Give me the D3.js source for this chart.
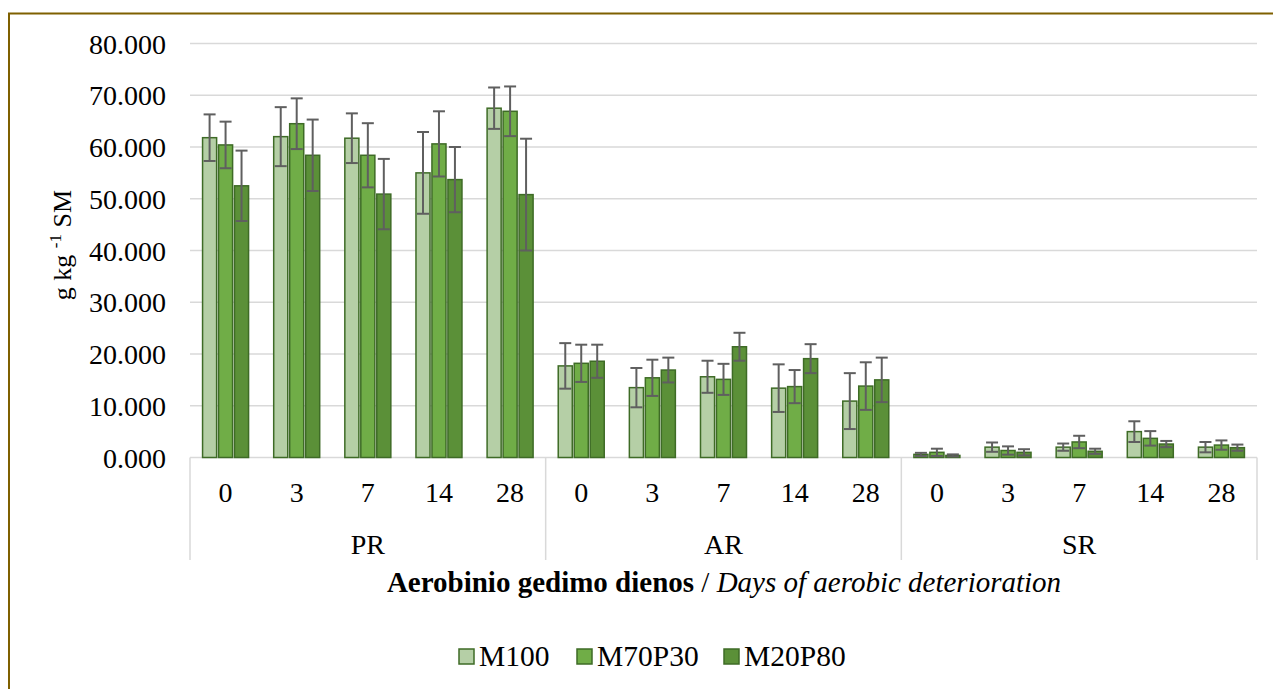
<!DOCTYPE html>
<html>
<head>
<meta charset="utf-8">
<script src="https://cdn.jsdelivr.net/npm/d3@7/dist/d3.min.js"></script>
<style>
  html, body { margin: 0; padding: 0; background: #fff; }
  svg { display: block; }
  text { font-family: "Liberation Serif", "Times New Roman", serif; fill: #000; }
</style>
</head>
<body>
<svg id="chart" width="1273" height="689"></svg>
<script>
// ---- data ----
const groups = ["PR", "AR", "SR"];
const days = ["0", "3", "7", "14", "28"];
const seriesNames = ["M100", "M70P30", "M20P80"];
const yTicks = [0, 10, 20, 30, 40, 50, 60, 70, 80];

const m100 = [61.8, 62.0, 61.7, 55.0, 67.5, 17.7, 13.5, 15.6, 13.4, 10.9, 0.6, 2.0, 2.0, 5.0, 2.0];
const m100Err = [4.5, 5.7, 4.8, 7.9, 4.0, 4.4, 3.8, 3.1, 4.6, 5.4, 0.3, 0.9, 0.7, 2.0, 1.0];
const m70p30 = [60.4, 64.5, 58.4, 60.6, 66.9, 18.2, 15.4, 15.1, 13.7, 13.8, 1.0, 1.35, 3.0, 3.7, 2.4];
const m70p30Err = [4.5, 4.9, 6.2, 6.3, 4.8, 3.6, 3.5, 3.0, 3.2, 4.6, 0.7, 0.8, 1.2, 1.4, 0.9];
const m20p80 = [52.5, 58.4, 50.9, 53.7, 50.8, 18.6, 16.9, 21.4, 19.1, 15.0, 0.4, 1.0, 1.2, 2.6, 1.9];
const m20p80Err = [6.8, 6.9, 6.8, 6.3, 10.8, 3.2, 2.4, 2.7, 2.8, 4.3, 0.2, 0.6, 0.5, 0.6, 0.6];

const colors = ["#b5cfa6", "#70ad47", "#5b9038"];
const values = [m100, m70p30, m20p80];
const errors = [m100Err, m70p30Err, m20p80Err];

(function () {
// categories = group x day
const cats = [];
groups.forEach(g => days.forEach(d => cats.push(g + "|" + d)));

const svg = d3.select("#chart");
const pLeft = 190, pRight = 1257, pTop = 43.5, pBottom = 457.5;

// frame
svg.append("rect").attr("x", 9).attr("y", 13.5).attr("width", 1400).attr("height", 800)
  .attr("fill", "none").attr("stroke", "#7f6000").attr("stroke-width", 2);

const x0 = d3.scaleBand().domain(cats).range([pLeft, pRight]).paddingInner(0).paddingOuter(0);
const x1 = d3.scaleBand().domain(seriesNames).range([-23, 23]).paddingInner(0.12).paddingOuter(0);
const y = d3.scaleLinear().domain([0, 80]).range([pBottom, pTop]);

// gridlines
svg.append("g").selectAll("line").data(yTicks).join("line")
  .attr("x1", pLeft).attr("x2", pRight)
  .attr("y1", d => y(d)).attr("y2", d => y(d))
  .attr("stroke", "#d9d9d9").attr("stroke-width", 1.5);

// y axis labels
const yAxis = d3.axisLeft(y).tickValues(yTicks).tickFormat(d3.format(".3f")).tickSize(0).tickPadding(0);
const yg = svg.append("g").attr("transform", `translate(166,0)`).call(yAxis);
yg.select(".domain").remove();
yg.selectAll("text").style("font-family", '"Liberation Serif", "Times New Roman", serif')
  .attr("font-size", 28).attr("fill", "#000").attr("dy", "0.34em");

// bars
const barG = svg.append("g");
seriesNames.forEach((s, si) => {
  const g = barG.append("g");
  g.selectAll("rect").data(cats).join("rect")
    .attr("x", c => x0(c) + x0.bandwidth() / 2 + x1(s))
    .attr("width", x1.bandwidth())
    .attr("y", (c, i) => y(values[si][i]))
    .attr("height", (c, i) => y(0) - y(values[si][i]))
    .attr("fill", colors[si])
    .attr("stroke", "#3e6b26").attr("stroke-width", 1.5);
});

// error bars
const errG = svg.append("g");
seriesNames.forEach((s, si) => {
  cats.forEach((c, i) => {
    const cx = x0(c) + x0.bandwidth() / 2 + x1(s) + x1.bandwidth() / 2;
    const v = values[si][i], e = errors[si][i];
    const yTop = y(v + e), yBot = y(Math.max(0, v - e));
    errG.append("line").attr("x1", cx).attr("x2", cx).attr("y1", yTop).attr("y2", yBot)
      .attr("stroke", "#5f5f5f").attr("stroke-width", 2);
    errG.append("line").attr("x1", cx - 6).attr("x2", cx + 6).attr("y1", yTop).attr("y2", yTop)
      .attr("stroke", "#5f5f5f").attr("stroke-width", 2);
    errG.append("line").attr("x1", cx - 6).attr("x2", cx + 6).attr("y1", yBot).attr("y2", yBot)
      .attr("stroke", "#5f5f5f").attr("stroke-width", 2);
  });
});

// category separators
const sepX = [pLeft];
groups.forEach(g => sepX.push(x0(g + "|" + days[days.length - 1]) + x0.bandwidth()));
svg.append("g").selectAll("line").data(sepX).join("line")
  .attr("x1", d => d).attr("x2", d => d).attr("y1", pBottom).attr("y2", 560)
  .attr("stroke", "#d9d9d9").attr("stroke-width", 1.5);

// day labels
svg.append("g").selectAll("text").data(cats).join("text")
  .attr("x", c => x0(c) + x0.bandwidth() / 2).attr("y", 502)
  .attr("text-anchor", "middle").attr("font-size", 28)
  .text(c => c.split("|")[1]);

// group labels
svg.append("g").selectAll("text").data(groups).join("text")
  .attr("x", g => (x0(g + "|" + days[0]) + x0(g + "|" + days[days.length - 1]) + x0.bandwidth()) / 2)
  .attr("y", 554).attr("text-anchor", "middle").attr("font-size", 28)
  .text(g => g);

// x axis title
const xt = svg.append("text").attr("x", 724).attr("y", 592)
  .attr("text-anchor", "middle").attr("font-size", 29);
xt.append("tspan").attr("font-weight", "bold").text("Aerobinio gedimo dienos");
xt.append("tspan").text(" / ");
xt.append("tspan").attr("font-style", "italic").text("Days of aerobic deterioration");

// y axis title
const yt = svg.append("text").attr("transform", "translate(71,245) rotate(-90)")
  .attr("text-anchor", "middle").attr("font-size", 26);
yt.append("tspan").text("g kg ");
yt.append("tspan").attr("font-size", 17).attr("dy", "-0.6em").text("-1");
yt.append("tspan").attr("dy", "0.4em").text(" SM");

// legend
const legendX = [459, 577, 724];
const lg = svg.append("g");
seriesNames.forEach((s, si) => {
  lg.append("rect").attr("x", legendX[si]).attr("y", 649).attr("width", 15).attr("height", 15)
    .attr("fill", colors[si]).attr("stroke", "#3e6b26").attr("stroke-width", 1.5);
  lg.append("text").attr("x", legendX[si] + 20).attr("y", 666).attr("font-size", 29.5).text(s);
});
})();
</script>
</body>
</html>
